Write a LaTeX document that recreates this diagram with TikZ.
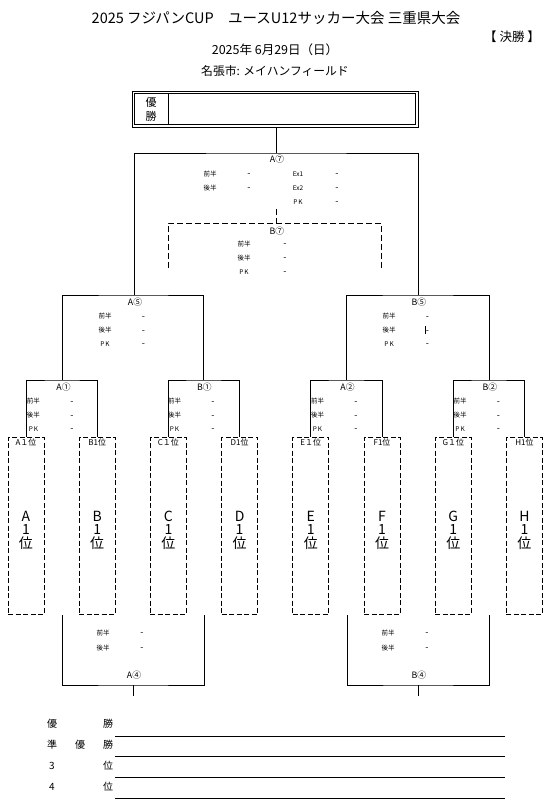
\documentclass[tikz,border=0pt]{standalone}
\usepackage{fontspec}
\setmainfont{Noto Sans CJK JP}
\begin{document}
\begin{tikzpicture}[x=1pt,y=-1pt,
  br/.style={line width=1.0pt},
  brd/.style={line width=0.9pt, dash pattern=on 6pt off 3pt},
  tbox/.style={draw, line width=0.8pt, dash pattern=on 5pt off 2.5pt, minimum width=36pt, minimum height=177pt, inner sep=0pt},
  sm/.style={font=\fontsize{6.5}{7}\selectfont, inner sep=0pt},
  dsh/.style={font=\fontsize{9}{9}\selectfont, inner sep=0pt, yshift=-1.5pt},
  lab/.style={font=\fontsize{8.8}{9}\selectfont, inner sep=0pt},
  hdr/.style={font=\fontsize{8}{8}\selectfont, inner sep=0pt},
  big/.style={font=\fontsize{14}{13.5}\selectfont, inner sep=0pt, align=center},
  lst/.style={font=\fontsize{10}{11}\selectfont, inner sep=0pt},
  ttl/.style={inner sep=0pt}]
\useasboundingbox (0,0) rectangle (558,811);

% titles
\node[ttl, font=\fontsize{14.5}{16}\selectfont] (title) at (276,18) {2025 フジパンCUP　ユースU12サッカー大会 三重県大会};
\node[ttl, font=\fontsize{12.5}{13}\selectfont] (round) at (512,37) {【 決勝 】};
\node[ttl, font=\fontsize{12.5}{13}\selectfont] (date) at (275,50) {2025年 6月29日（日）};
\node[ttl, font=\fontsize{11.8}{13}\selectfont] (venue) at (275,71) {名張市: メイハンフィールド};

% winner box
\draw[line width=0.9pt] (132,91) rectangle (418,127);
\draw[line width=0.9pt] (134.5,93.5) rectangle (415.5,124.5);
\draw[line width=0.9pt] (168,93.5) -- (168,124.5);
\node[ttl, font=\fontsize{11}{12}\selectfont] (w1) at (151,102) {優};
\node[ttl, font=\fontsize{11}{12}\selectfont] (w2) at (151,116) {勝};
\coordinate (win) at (276,127);

% team boxes
\foreach \n/\i/\h/\L in {tA/0/A１位/A, tB/1/B1位/B, tC/2/C１位/C, tD/3/D1位/D, tE/4/E１位/E, tF/5/F1位/F, tG/6/G１位/G, tH/7/H1位/H} {
  \node[tbox] (\n) at ({26+71.21*\i},525.5) {};
  \node[hdr] (\n h) at ({26+71.21*\i},442.5) {\h};
  \node[big] (\n t) at ({26+71.21*\i},530) {\L\\1\\位};
}

% bracket coordinates
\coordinate (a1) at (62.5,380);
\coordinate (b1) at (203.5,380);
\coordinate (a2) at (346.5,380);
\coordinate (b2) at (489,380);
\coordinate (a5) at (134,295);
\coordinate (b5) at (418,295);
\coordinate (a7) at (276,153);

% first round
\draw[br] (tA.north) |- (a1) -| (tB.north);
\draw[br] (tC.north) |- (b1) -| (tD.north);
\draw[br] (tE.north) |- (a2) -| (tF.north);
\draw[br] (tG.north) |- (b2) -| (tH.north);
% semi finals
\draw[br] (a1) |- (a5) -| (b1);
\draw[br] (a2) |- (b5) -| (b2);
% final
\draw[br] (a5) |- (a7) -| (b5);
\draw[br] (a7) -- (win);

% B7 dashed
\coordinate (a7s) at (276,209);
\coordinate (b7) at (275,223);
\coordinate (b7l) at (168,268);
\coordinate (b7r) at (381,268);
\draw[brd] (a7s) -- (276,223);
\draw[brd] (b7l) |- (b7) -| (b7r);

% bottom brackets A4, B4
\coordinate (a4l) at (62,615);
\coordinate (a4r) at (204.5,615);
\coordinate (a4) at (133,685);
\coordinate (a4s) at (133,696);
\coordinate (b4l) at (347,615);
\coordinate (b4r) at (489,615);
\coordinate (b4) at (418,685);
\coordinate (b4s) at (418,696);
\draw[br] (a4l) |- (a4) -| (a4r);
\draw[br] (a4) -- (a4s);
\draw[br] (b4l) |- (b4) -| (b4r);
\draw[br] (b4) -- (b4s);

% score blocks with PK
\foreach \n/\cx/\ty/\lbl in {a1/62.5/380/A①, b1/203.5/380/B①, a2/346.5/380/A②, b2/489/380/B②, a5/134/295/A⑤, b5/418/295/B⑤} {
  \node[lab] (\n lab) at (\cx+1,\ty+7.5) {\lbl};
  \node[sm] (\n h1) at (\cx-29,\ty+21.5) {前半};
  \node[dsh] (\n d1) at (\cx+9.5,\ty+21.5) {-};
  \node[sm] (\n h2) at (\cx-29,\ty+35.5) {後半};
  \node[dsh] (\n d2) at (\cx+9.5,\ty+35.5) {-};
  \node[sm] (\n pk) at (\cx-29,\ty+49) {P\,K};
  \node[dsh] (\n d3) at (\cx+9.5,\ty+49) {-};
}
\draw[line width=0.6pt] (425,326) -- (425,334);

% A7
\node[lab] (a7lab) at (277,159) {A⑦};
\node[sm] (a7h1) at (210,174) {前半};
\node[dsh] (a7d1) at (249,174) {-};
\node[sm] (a7h2) at (210,188) {後半};
\node[dsh] (a7d2) at (249,188) {-};
\node[sm] (a7e1) at (298,174) {Ex1};
\node[dsh] (a7d3) at (337,174) {-};
\node[sm] (a7e2) at (298,188) {Ex2};
\node[dsh] (a7d4) at (337,188) {-};
\node[sm] (a7pk) at (298,202) {P\,K};
\node[dsh] (a7d5) at (337,202) {-};

% B7
\node[lab] (b7lab) at (277,231) {B⑦};
\node[sm] (b7h1) at (244,244) {前半};
\node[dsh] (b7d1) at (285,244) {-};
\node[sm] (b7h2) at (244,258) {後半};
\node[dsh] (b7d2) at (285,258) {-};
\node[sm] (b7pk) at (244,272) {P\,K};
\node[dsh] (b7d3) at (285,272) {-};

% A4, B4
\node[sm] (a4h1) at (103,633) {前半};
\node[dsh] (a4d1) at (142,633) {-};
\node[sm] (a4h2) at (103,648) {後半};
\node[dsh] (a4d2) at (142,648) {-};
\node[lab] (a4lab) at (134,675) {A④};
\node[sm] (b4h1) at (388,633) {前半};
\node[dsh] (b4d1) at (427,633) {-};
\node[sm] (b4h2) at (388,648) {後半};
\node[dsh] (b4d2) at (427,648) {-};
\node[lab] (b4lab) at (419,675) {B④};

% final standings
\node[lst] (r1a) at (52,724) {優};
\node[lst] (r1b) at (108,724) {勝};
\node[lst] (r2a) at (52,745) {準};
\node[lst] (r2b) at (80,745) {優};
\node[lst] (r2c) at (108,745) {勝};
\node[lst] (r3a) at (52,766) {3};
\node[lst] (r3b) at (108,766) {位};
\node[lst] (r4a) at (52,787) {4};
\node[lst] (r4b) at (108,787) {位};
\foreach \y in {736,756,777,798} {
  \draw[line width=0.9pt] (115,\y) -- (505,\y);
}
\end{tikzpicture}
\end{document}
